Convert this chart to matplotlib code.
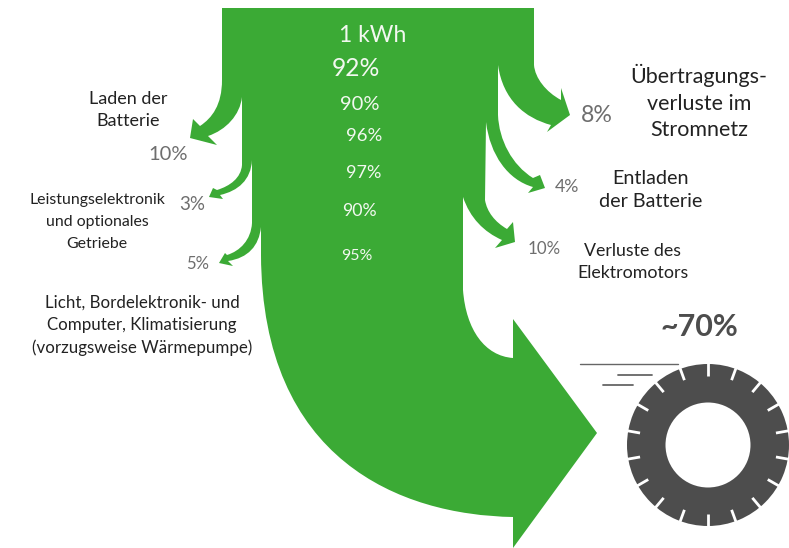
import numpy as np
import matplotlib
matplotlib.use("Agg")
import matplotlib.pyplot as plt
from matplotlib.path import Path
from matplotlib.patches import PathPatch, Wedge

plt.rcParams['font.family'] = ['Lato', 'DejaVu Sans']

GREEN = '#3BAA35'
GREY = '#4D4D4D'

chain_labels = ['1 kWh', '92%', '90%', '96%', '97%', '90%', '95%']
loss_values = ['10%', '3%', '5%', '8%', '4%', '10%']
loss_names = ['Laden der\nBatterie',
              'Leistungselektronik\nund optionales\nGetriebe',
              'Licht, Bordelektronik- und\nComputer, Klimatisierung\n(vorzugsweise Wärmepumpe)',
              'Übertragungs-\nverluste im\nStromnetz',
              'Entladen\nder Batterie',
              'Verluste des\nElektromotors']
result_label = '~70%'

fig = plt.figure(figsize=(7.89, 5.48), dpi=100)
ax = fig.add_axes([0, 0, 1, 1])
ax.set_xlim(0, 789)
ax.set_ylim(548, 0)
ax.axis('off')

M, L, C = Path.MOVETO, Path.LINETO, Path.CURVE4
segs = [
    (M, (222, 8)), (L, (534, 8)), (L, (534, 65)),
    (C, (535, 78), (546, 92), (561, 100)),
    (L, (561, 88)), (L, (570, 115)), (L, (547, 132)), (L, (551, 125)),
    (C, (525, 118), (503, 100), (498, 65)),
    (L, (498, 115)),
    (C, (499, 140), (512, 165), (533, 178)),
    (L, (540, 175)), (L, (545, 188)), (L, (528, 193)), (L, (533, 187)),
    (C, (508, 180), (490, 155), (486, 122)),
    (L, (485, 200)),
    (C, (487, 212), (495, 222), (507, 229)),
    (L, (513, 222)), (L, (515, 242)), (L, (495, 248)), (L, (502, 240)),
    (C, (484, 232), (470, 218), (463, 197)),
    (L, (463, 290)),
    (C, (466, 330), (485, 356), (513, 358)),
    (L, (513, 319)), (L, (597, 433)), (L, (513, 548)), (L, (513, 517)),
    (C, (400, 515), (262, 460), (261, 255)),
    (L, (261, 227)),
    (C, (259, 246), (248, 258), (228, 261)),
    (L, (233, 266)), (L, (219, 263)), (L, (225, 253)), (L, (227, 255)),
    (C, (240, 251), (251, 240), (252, 223)),
    (L, (252, 160)),
    (C, (251, 180), (238, 191), (220, 195)),
    (L, (223, 199)), (L, (209, 197)), (L, (213, 188)), (L, (217, 190)),
    (C, (230, 186), (241, 178), (242, 165)),
    (L, (242, 97)),
    (C, (240, 115), (226, 130), (208, 136)),
    (L, (217, 145)), (L, (190, 138)), (L, (193, 119)), (L, (200, 126)),
    (C, (212, 118), (222, 105), (222, 80)),
]
verts, codes = [], []
for s in segs:
    for v in s[1:]:
        verts.append(v)
        codes.append(s[0])
verts.append((222, 8))
codes.append(Path.CLOSEPOLY)
ax.add_patch(PathPatch(Path(verts, codes), fc=GREEN, ec='none'))

# chain efficiencies (white on green)
chain_pos = [(373, 35, 16.5), (356, 69, 17.7), (360, 104, 14.5), (364, 136, 13.3),
             (364, 173, 13), (359, 211, 12.8), (357, 256, 11.4)]
for t, (x, y, fs) in zip(chain_labels, chain_pos):
    ax.text(x, y, t, color='#F2F8F0', fontsize=fs, ha='center', va='center')

# loss percentages
val_pos = [(168, 154, 14.5), (192, 205, 13.5), (198, 264, 12),
           (597, 116, 16.7), (567, 187, 12.8), (544, 249, 12.2)]
for t, (x, y, fs) in zip(loss_values, val_pos):
    ax.text(x, y, t, color='#6E6E6E', fontsize=fs, ha='center', va='center')

# loss names
name_pos = [(128, 110, 13, 1.47), (97, 222, 11.4, 1.7), (142, 325, 12.2, 1.47),
            (699, 102, 15.5, 1.41), (651, 190, 14.2, 1.46), (633, 262, 12.8, 1.5)]
for t, (x, y, fs, ls) in zip(loss_names, name_pos):
    ax.text(x, y, t, color='#222222', fontsize=fs, ha='center', va='center',
            linespacing=ls, multialignment='center')

ax.text(699, 327, result_label, color=GREY, fontsize=22, fontweight='bold',
        ha='center', va='center')

# tyre
cx, cy, ro, ri = 708, 445, 81, 42.5
ax.add_patch(Wedge((cx, cy), ro, 0, 360, width=ro - ri, fc=GREY, ec='none'))
for a in np.deg2rad(np.arange(10, 370, 20)):
    ax.plot([cx + (ro - 12) * np.cos(a), cx + (ro + 1) * np.cos(a)],
            [cy + (ro - 12) * np.sin(a), cy + (ro + 1) * np.sin(a)],
            color='white', lw=2.0, solid_capstyle='butt')

# speed lines
for x0, x1, y, lw in [(580, 678, 364, 1.0), (618, 652, 375, 1.3), (603, 633, 385, 1.3)]:
    ax.plot([x0, x1], [y, y], color='#666666', lw=lw, solid_capstyle='round')

fig.savefig('out.png', dpi=100)
